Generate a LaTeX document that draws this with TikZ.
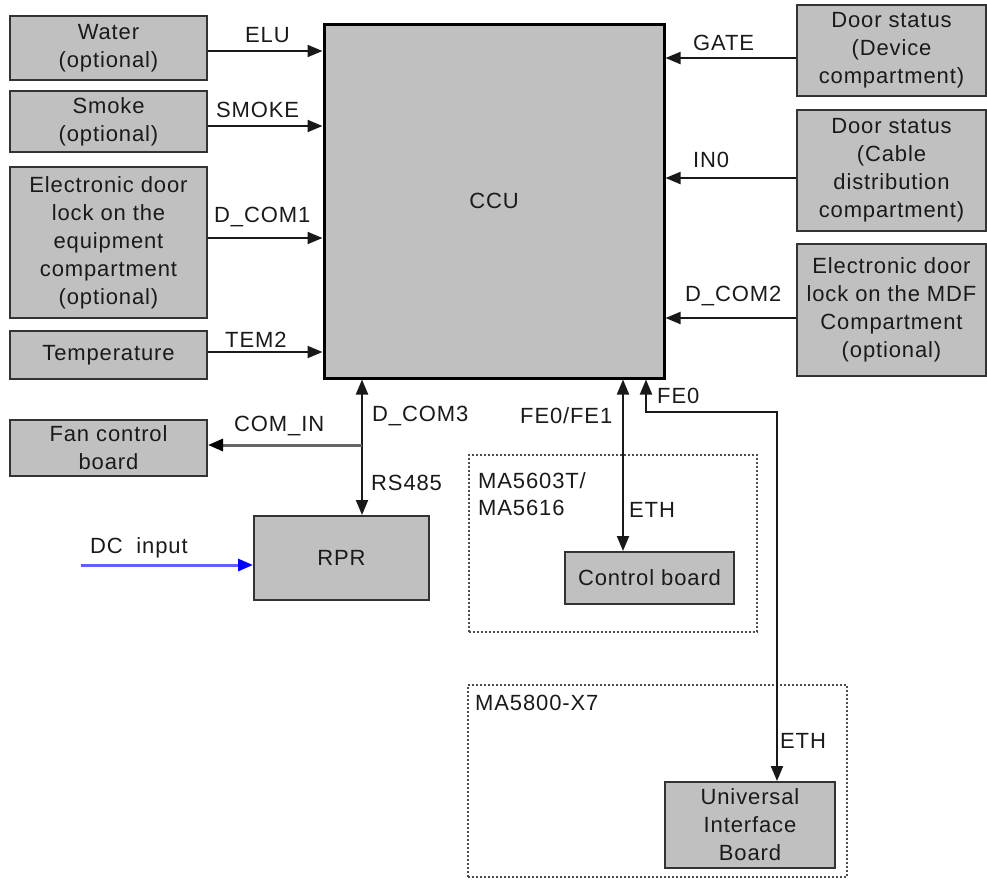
\documentclass[tikz,border=0pt]{standalone}
\usepackage{fontspec}
\setmainfont{Liberation Sans}[LetterSpace=4]
\usetikzlibrary{arrows.meta}
\definecolor{boxfill}{HTML}{C0C0C0}
\definecolor{boxline}{HTML}{333333}
\definecolor{dcline}{HTML}{6060FF}
\definecolor{txt}{HTML}{1A1A1A}
\begin{document}
\begin{tikzpicture}[x=1pt,y=-1pt,
  >={Triangle[length=15pt,width=12pt]},
  box/.style={draw=boxline, line width=2pt, fill=boxfill, align=center, inner sep=0pt,
    text=txt, font=\fontsize{22}{28}\selectfont},
  bigbox/.style={box, draw=black, line width=3pt},
  lbl/.style={inner sep=0pt, anchor=base west, text=txt, font=\fontsize{22}{28}\selectfont},
  conn/.style={line width=2pt, draw=black!90},
  graycon/.style={line width=3pt, draw=black!60, -{Triangle[length=15pt,width=12pt,color=black]}},
  dcarrow/.style={line width=3pt, draw=dcline, -{Triangle[length=15pt,width=12pt,color=blue]}},
  dashbox/.style={draw=black!70, line width=1.6pt, dash pattern=on 2pt off 2pt, inner sep=0pt, anchor=north west}
]
\useasboundingbox (0,0) rectangle (987,879);

% left boxes
\node[box, minimum width=197pt, minimum height=64pt] (water) at (108.5,48) {Water\\(optional)};
\node[box, minimum width=197pt, minimum height=61pt] (smoke) at (108.5,121.5) {Smoke\\(optional)};
\node[box, minimum width=197pt, minimum height=151pt] (elock) at (108.5,242.5) {Electronic door\\lock on the\\equipment\\compartment\\(optional)};
\node[box, minimum width=197pt, minimum height=48pt] (temp) at (108.5,355) {Temperature};
\node[box, minimum width=197pt, minimum height=56pt] (fan) at (108.5,448) {Fan control\\board};

% CCU
\node[bigbox, minimum width=340pt, minimum height=354pt] (ccu) at (494,201) {CCU};

% right boxes
\node[box, minimum width=189pt, minimum height=91pt] (door1) at (891.5,50.5) {Door status\\(Device\\compartment)};
\node[box, minimum width=189pt, minimum height=121pt] (door2) at (891.5,170.5) {Door status\\(Cable\\distribution\\compartment)};
\node[box, minimum width=189pt, minimum height=132pt] (mdf) at (891.5,310) {Electronic door\\lock on the MDF\\Compartment\\(optional)};

% dashed containers
\node[dashbox, minimum width=288pt, minimum height=177pt] (ma5603) at (468,454) {};
\node[dashbox, minimum width=379pt, minimum height=192pt] (ma5800) at (467,684) {};

% lower boxes
\node[box, minimum width=175pt, minimum height=84pt] (rpr) at (341.5,558) {RPR};
\node[box, minimum width=169pt, minimum height=52pt] (ctrl) at (649.5,578) {Control board};
\node[box, minimum width=170pt, minimum height=86pt] (uib) at (750,825) {Universal\\Interface\\Board};

% helper coordinates
\coordinate (d3) at (362,445);
\coordinate (f1) at (623,412);
\coordinate (fe0a) at (646,412);
\coordinate (fe0b) at (777,412);
\coordinate (dcin) at (81,565);

% left connectors
\draw[conn,->] ([yshift=-3pt]water.east) -- ([yshift=-3pt]water.east -| ccu.west);
\draw[conn,->] ([yshift=-4.5pt]smoke.east) -- ([yshift=-4.5pt]smoke.east -| ccu.west);
\draw[conn,->] ([yshift=4.5pt]elock.east) -- ([yshift=4.5pt]elock.east -| ccu.west);
\draw[conn,->] ([yshift=3pt]temp.east) -- ([yshift=3pt]temp.east -| ccu.west);

% right connectors
\draw[conn,->] ([yshift=-7.5pt]door1.west) -- ([yshift=-7.5pt]door1.west -| ccu.east);
\draw[conn,->] ([yshift=-7.5pt]door2.west) -- ([yshift=-7.5pt]door2.west -| ccu.east);
\draw[conn,->] ([yshift=-8pt]mdf.west) -- ([yshift=-8pt]mdf.west -| ccu.east);

% bottom connectors
\draw[conn,<->] (d3 |- ccu.south) -- (d3 |- rpr.north);
\draw[graycon] (d3) -- (d3 -| fan.east);
\draw[conn,<->] (f1 |- ccu.south) -- (f1 |- ctrl.north);
\draw[conn,<->] (fe0a |- ccu.south) -- (fe0a) -- (fe0b) -- (fe0b |- uib.north);
\draw[dcarrow] (dcin) -- (dcin -| rpr.west);

% labels
\node[lbl] (lelu) at (245,42) {ELU};
\node[lbl] (lsmoke) at (216,117) {SMOKE};
\node[lbl] (ldcom1) at (214,222) {D\_COM1};
\node[lbl] (ltem2) at (225,347) {TEM2};
\node[lbl] (lcomin) at (234,431) {COM\_IN};
\node[lbl] (lgate) at (693,50) {GATE};
\node[lbl] (lin0) at (693,167) {IN0};
\node[lbl] (ldcom2) at (685,301) {D\_COM2};
\node[lbl] (ldcom3) at (372,421) {D\_COM3};
\node[lbl] (lrs485) at (371,490) {RS485};
\node[lbl] (lfe0) at (657,403) {FE0};
\node[lbl] (lfe01) at (520,423) {FE0/FE1};
\node[lbl] (leth1) at (629,517) {ETH};
\node[lbl] (leth2) at (780,748) {ETH};
\node[lbl] (lma5603) at (478,488) {MA5603T/};
\node[lbl] (lma5616) at (478,515) {MA5616};
\node[lbl] (lma5800) at (475,710) {MA5800-X7};
\node[lbl] (ldc) at (90,553) {DC\hspace{0.3em} input};
\end{tikzpicture}
\end{document}
